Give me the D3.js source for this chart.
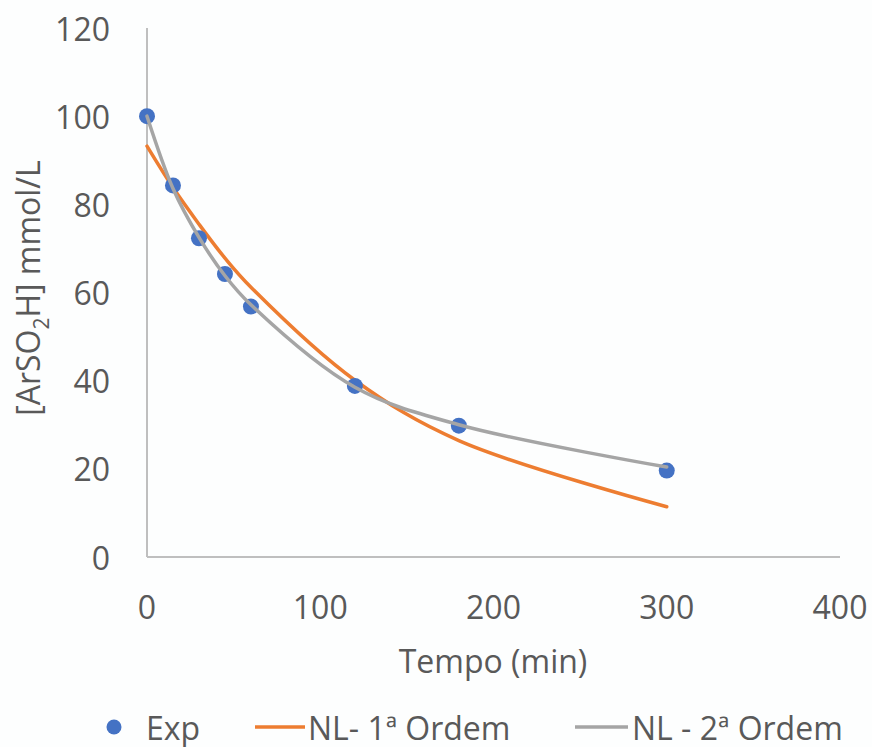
<!DOCTYPE html>
<html>
<head>
<meta charset="utf-8">
<title>ArSO2H</title>
<script src="https://cdn.jsdelivr.net/npm/d3@7"></script>
<style>
  body { margin: 0; background: #fdfefe; }
  text { font-family: "Open Sans", sans-serif; fill: #595959; }
</style>
</head>
<body>
<svg width="872" height="747"></svg>
<script>
var tempo = [0, 15, 30, 45, 60, 120, 180, 300];
var exp = [100, 84.3, 72.3, 64.2, 56.8, 38.8, 29.8, 19.6];
var nl1 = [93.2, 83.8, 75.5, 67.8, 61.2, 40.1, 26.4, 11.4];
var nl2 = [100, 83.6, 72.5, 63.8, 57.2, 38.5, 30.0, 20.4];
var xTicks = [0, 100, 200, 300, 400];
var yTicks = [0, 20, 40, 60, 80, 100, 120];

var svg = d3.select("svg");

var x = d3.scaleLinear().domain([0, 400]).range([147, 840]);
var y = d3.scaleLinear().domain([0, 120]).range([557, 28]);

// axis lines
svg.append("line").attr("x1", x(0)).attr("x2", x(0)).attr("y1", y(120)).attr("y2", y(0))
  .attr("stroke", "#bfbfbf").attr("stroke-width", 2);
svg.append("line").attr("x1", x(0)).attr("x2", x(400)).attr("y1", y(0)).attr("y2", y(0))
  .attr("stroke", "#bfbfbf").attr("stroke-width", 2);

svg.selectAll(".yt").data(yTicks).enter().append("text")
  .attr("x", 110).attr("y", function(d) { return y(d); })
  .attr("text-anchor", "end").attr("dominant-baseline", "central")
  .style("font-size", "32px").text(function(d) { return d; });

svg.selectAll(".xt").data(xTicks).enter().append("text")
  .attr("x", function(d) { return x(d); }).attr("y", 606)
  .attr("text-anchor", "middle").attr("dominant-baseline", "central")
  .style("font-size", "32px").text(function(d) { return d; });

// axis titles
svg.append("text").attr("x", 493).attr("y", 660)
  .attr("text-anchor", "middle").attr("dominant-baseline", "central")
  .style("font-size", "32px").text("Tempo (min)");

var yl = svg.append("text")
  .attr("transform", "translate(27,288) rotate(-90)")
  .attr("text-anchor", "middle").attr("dominant-baseline", "central")
  .style("font-size", "32px");
yl.append("tspan").text("[ArSO");
yl.append("tspan").attr("baseline-shift", "sub").style("font-size", "21px").text("2");
yl.append("tspan").text("H] mmol/L");

var line = function(vals) {
  return d3.line()
    .x(function(d, i) { return x(tempo[i]); })
    .y(function(d) { return y(d); })
    .curve(d3.curveCatmullRom.alpha(0.5))(vals);
};

svg.append("path").attr("d", line(nl1)).attr("fill", "none")
  .attr("stroke", "#ed7d31").attr("stroke-width", 3.5).attr("stroke-linecap", "round");

svg.selectAll(".pt").data(exp).enter().append("circle")
  .attr("cx", function(d, i) { return x(tempo[i]); })
  .attr("cy", function(d) { return y(d); })
  .attr("r", 8).attr("fill", "#4472c4");

svg.append("path").attr("d", line(nl2)).attr("fill", "none")
  .attr("stroke", "#a5a5a5").attr("stroke-width", 3.5).attr("stroke-linecap", "round");

// legend
var lg = svg.append("g");
lg.append("circle").attr("cx", 114).attr("cy", 727).attr("r", 7.5).attr("fill", "#4472c4");
lg.append("text").attr("x", 146).attr("y", 727).attr("dominant-baseline", "central")
  .style("font-size", "32px").text("Exp");
lg.append("line").attr("x1", 255).attr("x2", 305).attr("y1", 727).attr("y2", 727)
  .attr("stroke", "#ed7d31").attr("stroke-width", 3.5);
lg.append("text").attr("x", 308).attr("y", 727).attr("dominant-baseline", "central")
  .style("font-size", "32px").text("NL- 1ª Ordem");
lg.append("line").attr("x1", 575).attr("x2", 628).attr("y1", 727).attr("y2", 727)
  .attr("stroke", "#a5a5a5").attr("stroke-width", 3.5);
lg.append("text").attr("x", 632).attr("y", 727).attr("dominant-baseline", "central")
  .style("font-size", "32px").text("NL - 2ª Ordem");
</script>
</body>
</html>
